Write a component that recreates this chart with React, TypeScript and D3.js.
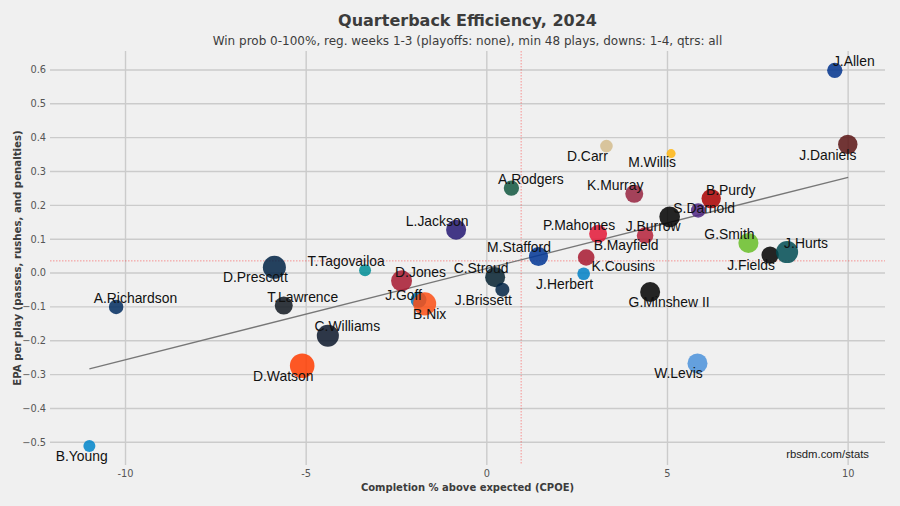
import React from "react";
import * as d3 from "d3";

// ---- data ----
const players = [
  "J.Allen", "J.Daniels", "D.Carr", "M.Willis", "A.Rodgers", "K.Murray", "B.Purdy", "S.Darnold",
  "J.Burrow", "P.Mahomes", "B.Mayfield", "M.Stafford", "K.Cousins", "J.Herbert", "G.Minshew II",
  "G.Smith", "J.Fields", "J.Hurts", "L.Jackson", "D.Prescott", "T.Tagovailoa", "D.Jones", "J.Goff",
  "B.Nix", "T.Lawrence", "C.Williams", "C.Stroud", "J.Brissett", "A.Richardson", "B.Young",
  "D.Watson", "W.Levis",
];
const cpoe = [
  9.63, 9.99, 3.31, 5.10, 0.68, 4.08, 6.21, 5.85,
  5.06, 3.08, 4.38, 1.43, 2.75, 2.68, 4.52,
  7.24, 7.84, 8.31, -0.85, -5.88, -3.37, -2.36, -1.89,
  -1.72, -5.62, -4.40, 0.23, 0.43, -10.26, -11.0,
  -5.11, 5.83,
];
const epa = [
  0.599, 0.380, 0.375, 0.353, 0.251, 0.234, 0.220, 0.185,
  0.166, 0.116, 0.111, 0.049, 0.046, -0.002, -0.056,
  0.089, 0.053, 0.062, 0.128, 0.017, 0.008, -0.023, -0.079,
  -0.091, -0.096, -0.185, -0.012, -0.049, -0.100, -0.511,
  -0.274, -0.267,
];
const plays = [
  88, 114, 71, 48, 88, 105, 114, 83,
  122, 105, 96, 112, 96, 71, 118,
  118, 101, 131, 118, 137, 67, 124, 92,
  137, 105, 131, 118, 80, 83, 67,
  147, 118,
];
const teamColors = [
  "#00338d", "#5a1414", "#d3bc8d", "#ffb612", "#125740", "#97233f", "#aa0000", "#4f2683",
  "#000000", "#e31837", "#b5213a", "#003594", "#a71930", "#0080c6", "#000000",
  "#69be28", "#000000", "#004c54", "#241773", "#002244", "#008e97", "#a71930", "#0076b6",
  "#fb4f14", "#101820", "#0b162a", "#03202f", "#002244", "#002c5f", "#0085ca",
  "#ff3c00", "#4b92db",
];
// label offsets (px, text centre relative to point)
const labelOffsets: [number, number][] = [
  [19, -9], [-20, 11], [-19, 10], [-19, 9], [19.5, -8.5], [-19, -8.5], [19.5, -8.5], [6, -2],
  [-16.5, 9], [-19, -8.5], [-19, 9.5], [-19.5, -9], [37, 8.5], [-19, 10], [19, 10],
  [-19, -9], [-19, 10.5], [19, -8.5], [-19, -8.5], [-19, 10], [-19, -9], [19, -8.5], [-15, -5],
  [5, 10], [19, -8.5], [19.5, -10], [-14, -8.5], [-19, 10.5], [19.3, -8.5], [-7.7, 10],
  [-19, 10], [-19, 10],
];
const xTicks = [-10, -5, 0, 5, 10];
const yTicks = [-0.5, -0.4, -0.3, -0.2, -0.1, 0.0, 0.1, 0.2, 0.3, 0.4, 0.5, 0.6];
const trendX = [-11, 10];
const trendY = [-0.283, 0.283];
const meanCpoe = 0.95;
const meanEpa = 0.036;

const title = "Quarterback Efficiency, 2024";
const subtitle = "Win prob 0-100%, reg. weeks 1-3 (playoffs: none), min 48 plays, downs: 1-4, qtrs: all";

export default function App() {
  const W = 900, H = 506;
  const left = 50, right = 885, top = 51, bottom = 465;
  const x = d3.scaleLinear().domain([-12.09, 11.02]).range([left, right]);
  const y = d3.scaleLinear().domain([-0.567, 0.656]).range([bottom, top]);
  const r = d3.scaleLinear().domain([48, 147]).range([4.5, 12.3]);
  const line = d3.line<number>().x((_, i) => x(trendX[i])).y((d) => y(d));
  const sans = "'DejaVu Sans', sans-serif";
  const helv = "'Liberation Sans', Arial, sans-serif";
  const idx = d3.range(players.length);

  return (
    <svg width={W} height={H} style={{ position: "absolute", left: 0, top: 0, background: "#f0f0f0" }}>
      <rect x={0} y={0} width={W} height={H} fill="#f0f0f0" />
      <text x={(left + right) / 2} y={26} textAnchor="middle" fontFamily={sans} fontWeight="bold" fontSize={16} fill="#3c3c3c">
        {title}
      </text>
      <text x={(left + right) / 2} y={44.5} textAnchor="middle" fontFamily={sans} fontSize={12} fill="#3c3c3c">
        {subtitle}
      </text>
      {/* grid */}
      {yTicks.map((t) => (
        <line key={"gy" + t} x1={left} x2={right} y1={y(t)} y2={y(t)} stroke="#cbcbcb" strokeWidth={1.4} />
      ))}
      {xTicks.map((t) => (
        <line key={"gx" + t} x1={x(t)} x2={x(t)} y1={top} y2={bottom} stroke="#cbcbcb" strokeWidth={1.4} />
      ))}
      {yTicks.map((t) => (
        <text key={"ty" + t} x={left - 4} y={y(t)} dy="0.35em" textAnchor="end" fontFamily={sans} fontSize={9.8} fill="#555">
          {d3.format(".1f")(t)}
        </text>
      ))}
      {xTicks.map((t) => (
        <text key={"tx" + t} x={x(t)} y={477} textAnchor="middle" fontFamily={sans} fontSize={9.8} fill="#555">
          {t < 0 ? "-" + Math.abs(t) : String(t)}
        </text>
      ))}
      <text x={(left + right) / 2} y={491} textAnchor="middle" fontFamily={sans} fontWeight="bold" fontSize={10} fill="#3c3c3c">
        Completion % above expected (CPOE)
      </text>
      <text transform={`translate(21,258) rotate(-90)`} textAnchor="middle" fontFamily={sans} fontWeight="bold" fontSize={10.2} fill="#3c3c3c">
        EPA per play (passes, rushes, and penalties)
      </text>
      {/* mean lines */}
      <line x1={x(meanCpoe)} x2={x(meanCpoe)} y1={top} y2={bottom} stroke="#ff0000" strokeOpacity={0.5} strokeWidth={0.8} strokeDasharray="1.5,1.5" />
      <line x1={left} x2={right} y1={y(meanEpa)} y2={y(meanEpa)} stroke="#ff0000" strokeOpacity={0.5} strokeWidth={0.8} strokeDasharray="1.5,1.5" />
      {/* trend */}
      <path d={line(trendY) || ""} fill="none" stroke="#777" strokeWidth={1.3} />
      {/* points */}
      {idx.map((i) => (
        <circle key={"c" + i} cx={x(cpoe[i])} cy={y(epa[i])} r={r(plays[i])} fill={teamColors[i]} fillOpacity={0.85} />
      ))}
      {idx.map((i) => (
        <text key={"l" + i} x={x(cpoe[i]) + labelOffsets[i][0]} y={y(epa[i]) + labelOffsets[i][1]} dy="0.35em" textAnchor="middle" fontFamily={helv} fontSize={13.9} fill="#111">
          {players[i]}
        </text>
      ))}
      <text x={869} y={458} textAnchor="end" fontFamily={helv} fontSize={11.3} fill="#222">
        rbsdm.com/stats
      </text>
    </svg>
  );
}
